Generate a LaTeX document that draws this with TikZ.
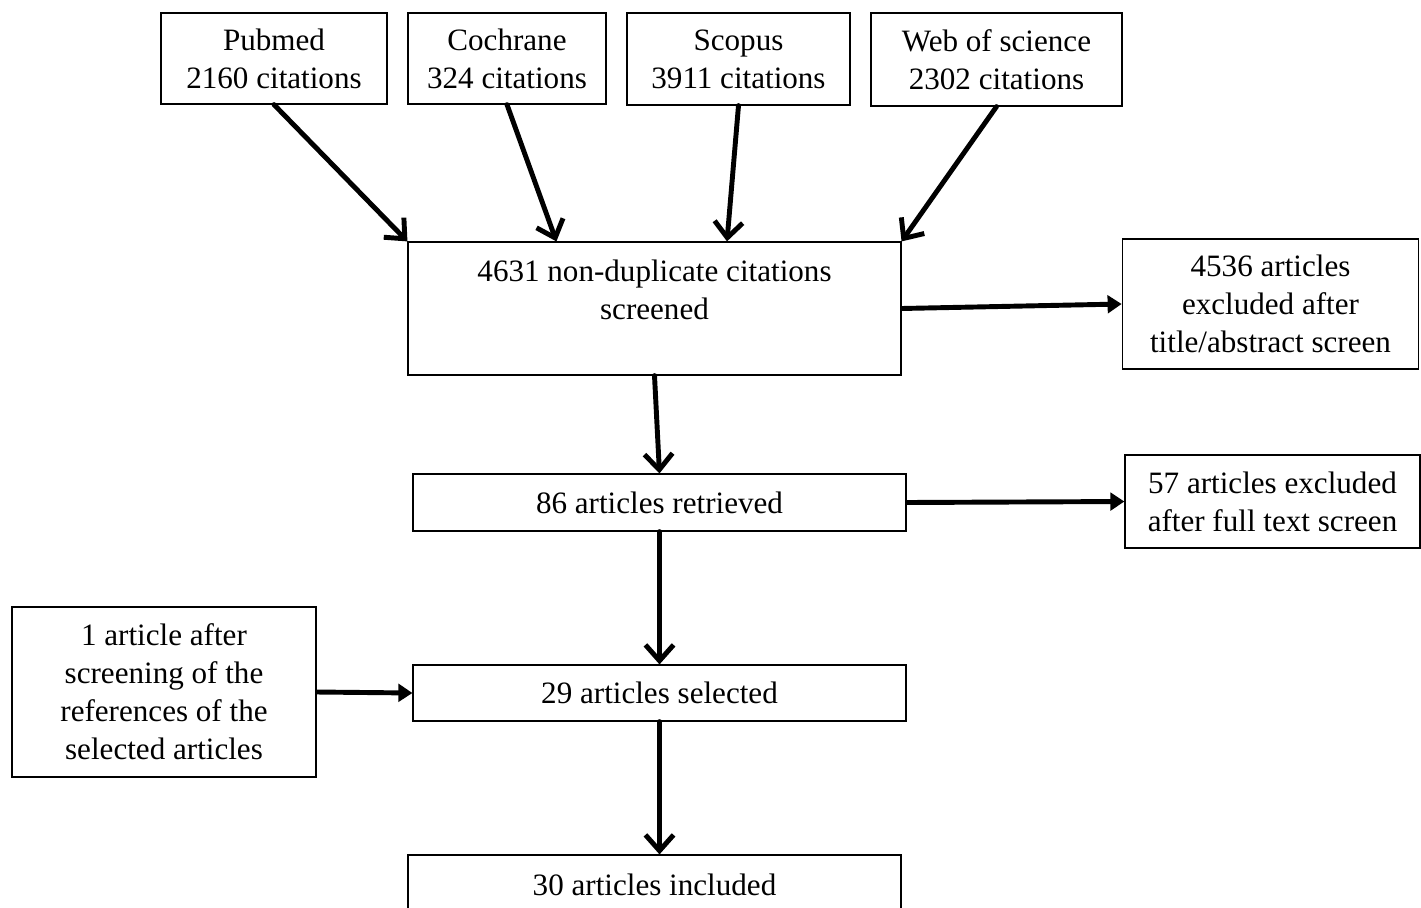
\documentclass[tikz,border=0pt]{standalone}
\usepackage{fontspec}
\setmainfont{Liberation Serif}
\usetikzlibrary{arrows.meta,positioning}
\tikzset{
    block/.style={draw,line width=0.7pt,align=center,inner sep=0pt,font=\fontsize{17.7}{21.6}\selectfont},
    arrow/.style={-{Straight Barb[length=9pt,width=16pt]}, line width=2.8pt, line cap=round},
    sidearrow/.style={-{Triangle[length=8pt,width=10pt]}, line width=2.8pt}
}

\begin{document}
\begin{tikzpicture}[x=0.02cm,y=-0.02cm]
  \useasboundingbox (0,0) rectangle (1421,907);
  % databases
  \node[block,minimum width=4.52cm,minimum height=1.82cm] (N1) at (274,58.5) {Pubmed\\2160 citations};
  \node[block,minimum width=3.96cm,minimum height=1.82cm] (N2) at (507,58.5) {Cochrane\\324 citations};
  \node[block,minimum width=4.46cm,minimum height=1.84cm] (N3) at (738.5,59) {Scopus\\3911 citations};
  \node[block,minimum width=5.02cm,minimum height=1.86cm] (N4) at (996.5,59.5) {Web of science\\2302 citations};
  % main flow
  \node[block,minimum width=9.86cm,minimum height=2.66cm] (N5) at (654.5,308.5) {4631 non-duplicate citations\\screened\\[-6.8pt]\strut};
  \node[block,minimum width=5.93cm,minimum height=2.6cm] (N6) at (1270.5,304) {4536 articles\\excluded after\\title/abstract screen};
  \node[block,minimum width=9.86cm,minimum height=1.14cm] (N7) at (659.5,502.5) {86 articles retrieved};
  \node[block,minimum width=5.9cm,minimum height=1.86cm] (N8) at (1272.5,501.5) {57 articles excluded\\after full text screen};
  \node[block,minimum width=9.86cm,minimum height=1.12cm] (N9) at (659.5,693) {29 articles selected};
  \node[block,minimum width=6.08cm,minimum height=3.4cm] (N10) at (164,692) {1 article after\\screening of the\\references of the\\selected articles};
  \node[block,minimum width=9.86cm,minimum height=1.2cm] (N11) at (654.5,885) {30 articles included};

  \draw[arrow] (N1.south) -- (N5.north west);
  \draw[arrow] (N2.south) -- ([xshift=2.98cm]N5.north west);
  \draw[arrow] (N3.south) -- ([xshift=1.45cm]N5.north);
  \draw[arrow] (N4.south) -- (N5.north east);
  \draw[sidearrow] (N5.east) -- (N6.west);
  \draw[arrow] (N5.south) -- (N7.north);
  \draw[sidearrow] (N7.east) -- (N8.west);
  \draw[arrow] (N7.south) -- (N9.north);
  \draw[sidearrow] (N10.east) -- (N9.west);
  \draw[arrow] (N9.south) -- (N9.south |- N11.north);
\end{tikzpicture}
\end{document}
